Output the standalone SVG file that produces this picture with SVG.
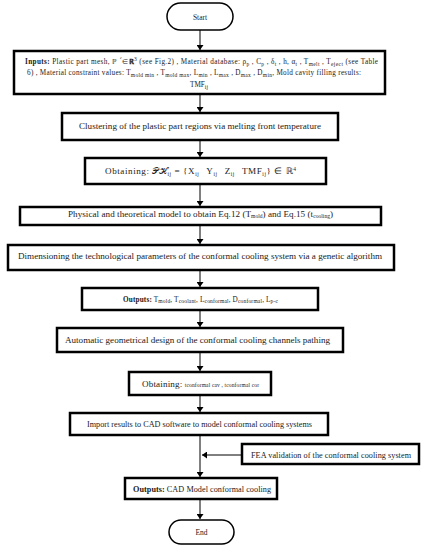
<svg xmlns="http://www.w3.org/2000/svg" width="426" height="550" viewBox="0 0 426 550">
<style>
.box{fill:#fff;stroke:#000;stroke-width:2.5}
.pill{fill:#fff;stroke:#000;stroke-width:1.5}
.t{font-family:"Liberation Serif","Times New Roman",serif;fill:#1a1a1a;text-anchor:middle}
.m{font-size:9.1px}
.s{font-size:8.2px}
.i{font-size:7.2px}
.b{font-weight:bold}
.sub{font-size:5.5px}
.conn line{stroke:#000;stroke-width:1;marker-end:url(#ah)}
</style>
<defs>
<marker id="ah" markerUnits="userSpaceOnUse" markerWidth="6" markerHeight="7" refX="5" refY="3.5" orient="auto">
<path d="M0,0 L5,3.5 L0,7 z" fill="#000"/>
</marker>
</defs>
<rect width="426" height="550" fill="#fff"/>
<g class="conn">
<line x1="200" y1="30" x2="200" y2="50"/>
<line x1="200" y1="94" x2="200" y2="112"/>
<line x1="200" y1="140" x2="200" y2="157"/>
<line x1="200" y1="184" x2="200" y2="206"/>
<line x1="200" y1="225" x2="200" y2="244"/>
<line x1="200" y1="270" x2="200" y2="287"/>
<line x1="200" y1="310" x2="200" y2="327"/>
<line x1="200" y1="352" x2="200" y2="371"/>
<line x1="200" y1="395" x2="200" y2="412"/>
<line x1="200" y1="435" x2="200" y2="477"/>
<line x1="242" y1="455" x2="202" y2="455"/>
<line x1="200" y1="499" x2="200" y2="519"/>
</g>
<g id="start">
<rect class="pill" x="167" y="3" width="66" height="27" rx="13.5"/>
<text class="t" style="font-size:7.5px" x="200" y="19.5">Start</text>
</g>
<g id="inputs">
<rect class="box" x="14" y="51" width="371" height="43"/>
<text class="t i" x="201.5" y="64" textLength="353"><tspan class="b">Inputs:</tspan> Plastic part mesh, ℙ ´∈<tspan class="b">ℝ</tspan><tspan class="sub" dy="-3">3</tspan><tspan dy="3"> (see Fig.2) , Material database: ρ</tspan><tspan class="sub" dy="1.5">p</tspan><tspan dy="-1.5"> , C</tspan><tspan class="sub" dy="1.5">p</tspan><tspan dy="-1.5"> , δ</tspan><tspan class="sub" dy="1.5">t</tspan><tspan dy="-1.5"> , h, α</tspan><tspan class="sub" dy="1.5">t</tspan><tspan dy="-1.5"> , T</tspan><tspan class="sub" dy="1.5">melt</tspan><tspan dy="-1.5"> , T</tspan><tspan class="sub" dy="1.5">eject</tspan><tspan dy="-1.5"> (see Table</tspan></text>
<text class="t i" x="194" y="75" textLength="334">6) , Material constraint values: T<tspan class="sub" dy="1.5">mold min</tspan><tspan dy="-1.5"> , T</tspan><tspan class="sub" dy="1.5">mold max</tspan><tspan dy="-1.5">, L</tspan><tspan class="sub" dy="1.5">min</tspan><tspan dy="-1.5"> , L</tspan><tspan class="sub" dy="1.5">max</tspan><tspan dy="-1.5"> , D</tspan><tspan class="sub" dy="1.5">max</tspan><tspan dy="-1.5"> ,  D</tspan><tspan class="sub" dy="1.5">min</tspan><tspan dy="-1.5">, Mold cavity filling results:</tspan></text>
<text class="t i" x="199" y="87">TMF<tspan class="sub" dy="1.5">ij</tspan></text>
</g>
<g id="clustering">
<rect class="box" x="62" y="113" width="276" height="27"/>
<text class="t m" x="200" y="129" textLength="242">Clustering of the plastic part regions via melting front temperature</text>
</g>
<g id="obtaining1">
<rect class="box" x="85" y="158" width="241" height="26"/>
<text class="t m" x="200.5" y="174" textLength="191">Obtaining: 𝒫ℋ<tspan class="sub" dy="1.5">ij</tspan><tspan dy="-1.5"> = {X</tspan><tspan class="sub" dy="1.5">ij</tspan><tspan dy="-1.5" dx="7">Y</tspan><tspan class="sub" dy="1.5">ij</tspan><tspan dy="-1.5" dx="7">Z</tspan><tspan class="sub" dy="1.5">ij</tspan><tspan dy="-1.5" dx="7">TMF</tspan><tspan class="sub" dy="1.5">ij</tspan><tspan dy="-1.5">} ∈ ℝ</tspan><tspan class="sub" dy="-3">4</tspan></text>
</g>
<g id="physical">
<rect class="box" x="20" y="207" width="361" height="18"/>
<text class="t m" x="200.5" y="216.5" textLength="265">Physical and theoretical model to obtain Eq.12 (T<tspan class="sub" dy="1.5">mold</tspan><tspan dy="-1.5">) and Eq.15 (t</tspan><tspan class="sub" dy="1.5">cooling</tspan><tspan dy="-1.5">)</tspan></text>
</g>
<g id="dimensioning">
<rect class="box" x="8" y="245" width="386" height="25"/>
<text class="t m" x="200" y="258.5" textLength="364">Dimensioning the technological parameters of the conformal cooling system via a genetic algorithm</text>
</g>
<g id="outputs1">
<rect class="box" x="82" y="288" width="236" height="22"/>
<text class="t i" x="200.5" y="301.5" textLength="155"><tspan class="b">Outputs:</tspan> T<tspan class="sub" dy="1.5">mold</tspan><tspan dy="-1.5">, T</tspan><tspan class="sub" dy="1.5">coolant</tspan><tspan dy="-1.5">, L</tspan><tspan class="sub" dy="1.5">conformal</tspan><tspan dy="-1.5">, D</tspan><tspan class="sub" dy="1.5">conformal</tspan><tspan dy="-1.5">, L</tspan><tspan class="sub" dy="1.5">p-c</tspan></text>
</g>
<g id="automatic">
<rect class="box" x="57" y="328" width="286" height="24"/>
<text class="t m" x="197.5" y="343" textLength="265">Automatic geometrical design of the conformal cooling channels pathing</text>
</g>
<g id="obtaining2">
<rect class="box" x="129" y="372" width="142" height="23"/>
<text class="t m" x="200.5" y="387" textLength="117">Obtaining: <tspan class="sub">tconformal cav , tconformal cor</tspan></text>
</g>
<g id="import">
<rect class="box" x="70" y="413" width="258" height="22"/>
<text class="t s" x="199.5" y="427" textLength="225">Import results to CAD software to model conformal cooling systems</text>
</g>
<g id="fea">
<rect class="box" x="242" y="444" width="177" height="20"/>
<text class="t s" x="331" y="457.5" textLength="160">FEA validation of the conformal cooling  system</text>
</g>
<g id="outputs2">
<rect class="box" x="125" y="478" width="152" height="21"/>
<text class="t s" x="202" y="491.5" textLength="138"><tspan class="b">Outputs:</tspan> CAD Model conformal cooling</text>
</g>
<g id="end">
<rect class="pill" x="169" y="520" width="65" height="24" rx="12"/>
<text class="t" style="font-size:7.5px" x="201.5" y="534.5">End</text>
</g>
</svg>
